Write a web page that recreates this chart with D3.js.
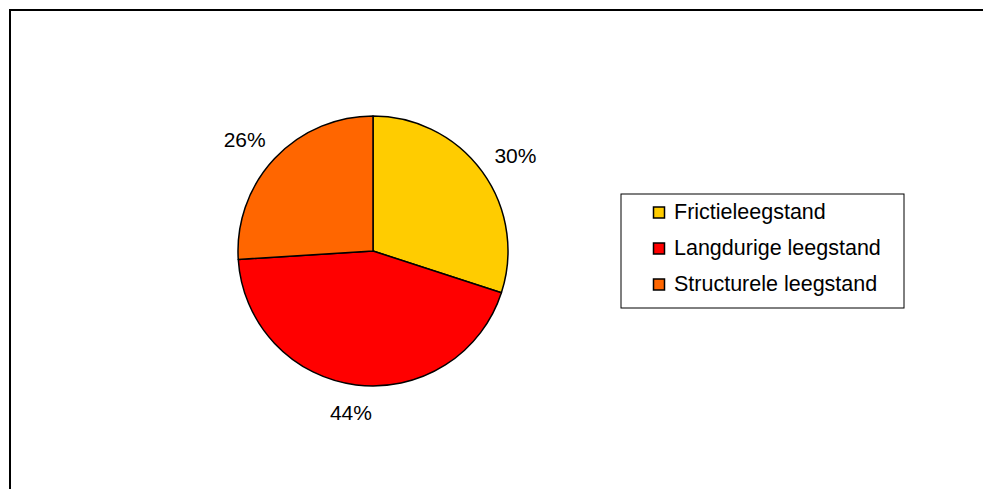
<!DOCTYPE html>
<html>
<head>
<meta charset="utf-8">
<script src="https://cdnjs.cloudflare.com/ajax/libs/d3/7.8.5/d3.min.js"></script>
<style>
    html, body { margin: 0; background: #fff; overflow: hidden; }
    svg { display: block; }
    text { font-family: "Liberation Sans", Arial, sans-serif; fill: #000; }
</style>
</head>
<body>
<svg id="pieChart"></svg>
<script>
const categories = ["Frictieleegstand", "Langdurige leegstand", "Structurele leegstand"]
const shares = [30, 44, 26]
const labels = ["30%", "44%", "26%"]
const colors = ["#FFCC00", "#FF0000", "#FF6600"]

const chart = {
    width: 983,
    height: 489
}
const pieBox = {
    cx: 373,
    cy: 251,
    radius: 135,
    labelRadius: 155
}
const legendBox = {
    x: 621,
    y: 194,
    width: 283,
    height: 114,
    rowStart: 219,
    rowGap: 36
}
const labelSize = 21

const svg = d3.select("#pieChart")
    .attr("width", chart.width)
    .attr("height", chart.height)

// outer frame: only left and top edges are in view
svg.append("path")
    .attr("d", "M10," + (chart.height + 5) + "V10H" + (chart.width + 5))
    .attr("fill", "none")
    .attr("stroke", "#000")
    .attr("stroke-width", 2)

const pie = d3.pie()
    .sort(null)
    .value((d) => d)

const arcs = pie(shares)

const arc = d3.arc()
    .innerRadius(0)
    .outerRadius(pieBox.radius)

const labelArc = d3.arc()
    .innerRadius(pieBox.labelRadius)
    .outerRadius(pieBox.labelRadius)

const g = svg.append("g")
    .attr("transform", "translate(" + pieBox.cx + "," + pieBox.cy + ")")

g.selectAll(".slice")
    .data(arcs)
    .enter()
    .append("path")
    .attr("class", "slice")
    .attr("d", arc)
    .attr("fill", (d, i) => colors[i])
    .attr("stroke", "#000")
    .attr("stroke-width", 1.5)
    .attr("stroke-linejoin", "round")

// labels sit outside the pie, box pushed away along the mid angle
g.selectAll(".label")
    .data(arcs)
    .enter()
    .append("text")
    .attr("class", "label")
    .attr("text-anchor", "middle")
    .style("font-size", labelSize + "px")
    .text((d, i) => labels[i])
    .each(function (d) {
        const w = this.getComputedTextLength()
        const h = labelSize * 0.716
        const mid = (d.startAngle + d.endAngle) / 2
        const p = labelArc.centroid(d)
        const x = p[0] + Math.sin(mid) * w / 2
        const y = p[1] - Math.cos(mid) * h / 2 + h / 2
        d3.select(this).attr("x", x).attr("y", y)
    })

// legend
svg.append("rect")
    .attr("x", legendBox.x)
    .attr("y", legendBox.y)
    .attr("width", legendBox.width)
    .attr("height", legendBox.height)
    .attr("fill", "#fff")
    .attr("stroke", "#000")
    .attr("stroke-width", 1)

const rowY = d3.scalePoint()
    .domain(categories)
    .range([legendBox.rowStart, legendBox.rowStart + legendBox.rowGap * (categories.length - 1)])

const rows = svg.selectAll(".legendRow")
    .data(categories)
    .enter()
    .append("g")
    .attr("class", "legendRow")
    .attr("transform", (d) => "translate(0," + rowY(d) + ")")

rows.append("rect")
    .attr("x", 653.5)
    .attr("y", -12)
    .attr("width", 11)
    .attr("height", 11)
    .attr("fill", (d, i) => colors[i])
    .attr("stroke", "#000")
    .attr("stroke-width", 1.5)

rows.append("text")
    .attr("x", 674)
    .attr("y", 0)
    .style("font-size", "21.5px")
    .text((d) => d)
</script>
</body>
</html>
